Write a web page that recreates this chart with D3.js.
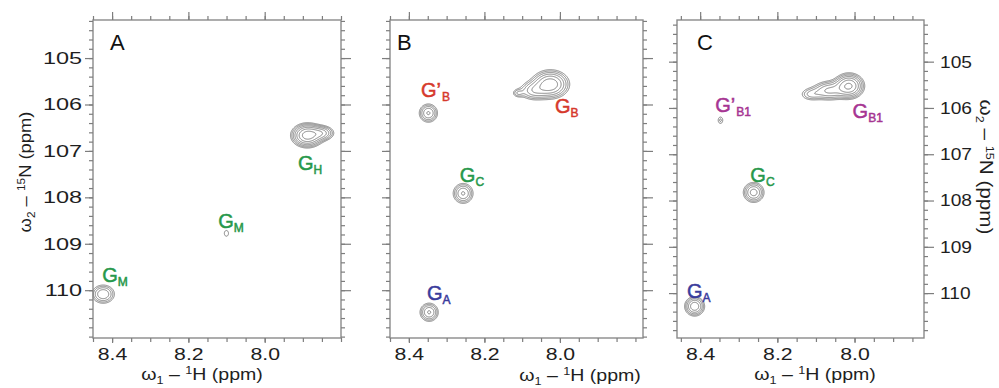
<!DOCTYPE html>
<html>
<head>
<meta charset="utf-8">
<script src="https://cdn.jsdelivr.net/npm/d3@7"></script>
<style>
  body { margin: 0; background: #fff; }
  svg { font-family: "Liberation Sans", Arial, Helvetica, sans-serif; }
</style>
</head>
<body>
<svg id="chart" width="999" height="388"></svg>
<script>
// tick labels
const xTickLabels = [8.4, 8.2, 8.0];
const yTickLabels = [105, 106, 107, 108, 109, 110];
const panelNames = ["A", "B", "C"];

// peaks: 1H ppm, 15N ppm, linewidths sx/sy (ppm), height h in units of lowest contour
const peaksA = [
  { x: 7.889, y: 106.66, sx: 0.021, sy: 0.13, h: 9 },
  { x: 7.850, y: 106.61, sx: 0.018, sy: 0.09, h: 4 },
  { x: 8.101, y: 108.77, sx: 0.0066, sy: 0.075, h: 1.4 },
  { x: 8.424, y: 110.08, sx: 0.018, sy: 0.12, h: 3.8 }
];
const peaksB = [
  { x: 8.349, y: 106.18, sx: 0.0145, sy: 0.118, h: 4 },
  { x: 8.026, y: 105.56, sx: 0.026, sy: 0.16, h: 7 },
  { x: 8.072, y: 105.70, sx: 0.022, sy: 0.12, h: 3 },
  { x: 8.112, y: 105.75, sx: 0.010, sy: 0.06, h: 1.6 },
  { x: 8.257, y: 107.91, sx: 0.0158, sy: 0.129, h: 4 },
  { x: 8.347, y: 110.47, sx: 0.0145, sy: 0.118, h: 4 }
];
const peaksC = [
  { x: 8.348, y: 106.26, sx: 0.0065, sy: 0.076, h: 1.5 },
  { x: 8.015, y: 105.52, sx: 0.020, sy: 0.14, h: 8 },
  { x: 8.067, y: 105.62, sx: 0.024, sy: 0.12, h: 4 },
  { x: 8.114, y: 105.70, sx: 0.018, sy: 0.09, h: 2 },
  { x: 8.262, y: 107.82, sx: 0.0155, sy: 0.125, h: 4.5 },
  { x: 8.415, y: 110.28, sx: 0.0145, sy: 0.118, h: 5 }
];

// peak assignments (label anchor in ppm)
const labelsA = [
  { sub: "H", prime: false, x: 7.913, y: 107.41 },
  { sub: "M", prime: false, x: 8.122, y: 108.66 },
  { sub: "M", prime: false, x: 8.426, y: 109.82 }
];
const labelsB = [
  { sub: "B", prime: true, x: 8.368, y: 105.84 },
  { sub: "B", prime: false, x: 8.013, y: 106.18 },
  { sub: "C", prime: false, x: 8.265, y: 107.67 },
  { sub: "A", prime: false, x: 8.352, y: 110.21 }
];
const labelsC = [
  { sub: "B1", prime: true, x: 8.361, y: 106.09 },
  { sub: "B1", prime: false, x: 8.005, y: 106.22 },
  { sub: "C", prime: false, x: 8.270, y: 107.60 },
  { sub: "A", prime: false, x: 8.434, y: 110.11 }
];

const labelColor = { H: "#27984b", M: "#27984b", C: "#27984b", A: "#3a3c9c", B: "#d6392c", B1: "#a63592" };

const panels = [
  { name: panelNames[0], peaks: peaksA, labels: labelsA, box: [93, 20, 341, 338], xDom: [8.45, 7.80], yDom: [104.18, 111.03],
    letterDx: 17, leftLabels: true, rightLabels: false, titleX: 202, titleY: 380 },
  { name: panelNames[1], peaks: peaksB, labels: labelsB, box: [390, 20, 643, 338], xDom: [8.45, 7.78], yDom: [104.18, 111.03],
    letterDx: 7, leftLabels: false, rightLabels: false, titleX: 580, titleY: 381 },
  { name: panelNames[2], peaks: peaksC, labels: labelsC, box: [677, 20, 924, 338], xDom: [8.46, 7.82], yDom: [104.1, 110.97],
    letterDx: 20, leftLabels: false, rightLabels: true, titleX: 815, titleY: 380 }
];

const svg = d3.select("#chart");
const tickColor = "#7d7d7d";
const levels = d3.range(0, 10).map(i => Math.pow(1.4, i));

function styleAxis(sel, stretch) {
  sel.select(".domain").remove();
  sel.selectAll(".tick line").attr("stroke", tickColor).attr("stroke-width", 1.2);
  sel.selectAll(".tick text").attr("fill", "#1e1e1e").style("font-size", "17px").style("font-family", "inherit")
    .each(function () {
      if (!stretch) return;
      const t = d3.select(this);
      const tx = +t.attr("x") || 0;
      t.attr("x", tx / stretch).attr("transform", `scale(${stretch},1)`);
    });
}

panels.forEach(p => {
  const [x0, y0, x1, y1] = p.box;
  const w = x1 - x0, h = y1 - y0;
  const x = d3.scaleLinear().domain(p.xDom).range([0, w]);
  const y = d3.scaleLinear().domain(p.yDom).range([0, h]);
  const g = svg.append("g").attr("transform", `translate(${x0},${y0})`);

  // contours from the peak list
  const k = 2;
  const nx = Math.round(w * k), ny = Math.round(h * k);
  const vals = new Float64Array(nx * ny);
  for (let j = 0; j < ny; j++) {
    const yp = y.invert(j / k);
    for (let i = 0; i < nx; i++) {
      const xp = x.invert(i / k);
      let v = 0;
      for (const pk of p.peaks) {
        const dx = (xp - pk.x) / pk.sx, dy = (yp - pk.y) / pk.sy;
        v += pk.h * Math.exp(-0.5 * (dx * dx + dy * dy));
      }
      vals[j * nx + i] = v;
    }
  }
  const cs = d3.contours().size([nx, ny]).thresholds(levels)(vals);
  g.append("g").attr("transform", `scale(${1 / k})`)
    .selectAll("path").data(cs).join("path")
    .attr("d", d3.geoPath())
    .attr("fill", "none")
    .attr("stroke", "#7e7e7e")
    .attr("stroke-width", 1.0 * k);

  // frame
  g.append("rect").attr("width", w).attr("height", h)
    .attr("fill", "none").attr("stroke", "#8a8a8a").attr("stroke-width", 1.4);

  const xMinor = d3.range(8.45, 7.75, -0.05).map(v => +v.toFixed(2)).filter(v => v <= p.xDom[0] && v >= p.xDom[1]);
  const yMinor = d3.range(104.2, 111.1, 0.2).map(v => +v.toFixed(1)).filter(v => v >= p.yDom[0] && v <= p.yDom[1]);

  // top
  g.append("g").call(d3.axisTop(x).tickValues(xMinor).tickSize(4).tickFormat("")).call(styleAxis);
  g.append("g").call(d3.axisTop(x).tickValues(xTickLabels).tickSize(8).tickFormat("")).call(styleAxis);
  // bottom
  g.append("g").attr("transform", `translate(0,${h})`)
    .call(d3.axisBottom(x).tickValues(xMinor).tickSize(4).tickFormat("")).call(styleAxis);
  g.append("g").attr("transform", `translate(0,${h})`)
    .call(d3.axisBottom(x).tickValues(xTickLabels).tickSize(5).tickPadding(5).tickFormat(d3.format(".1f")))
    .call(styleAxis, 1.25);
  // left
  g.append("g").call(d3.axisLeft(y).tickValues(yMinor).tickSize(4).tickFormat("")).call(styleAxis);
  g.append("g").call(d3.axisLeft(y).tickValues(yTickLabels).tickSize(8).tickPadding(3)
    .tickFormat(p.leftLabels ? d3.format("d") : "")).call(styleAxis, 1.38);
  // right
  g.append("g").attr("transform", `translate(${w},0)`)
    .call(d3.axisRight(y).tickValues(yMinor).tickSize(4).tickFormat("")).call(styleAxis);
  g.append("g").attr("transform", `translate(${w},0)`)
    .call(d3.axisRight(y).tickValues(yTickLabels).tickSize(10).tickPadding(6)
      .tickFormat(p.rightLabels ? d3.format("d") : "")).call(styleAxis, 1.13);

  // panel letter
  g.append("text").attr("x", p.letterDx).attr("y", 30).attr("fill", "#111")
    .style("font-size", "22px").text(p.name);

  // peak labels
  p.labels.forEach(l => {
    const t = g.append("text").attr("x", x(l.x)).attr("y", y(l.y))
      .attr("fill", labelColor[l.sub]).attr("stroke", labelColor[l.sub]).attr("stroke-width", 0.5)
      .style("font-size", "20px");
    t.append("tspan").text("G");
    if (l.prime) t.append("tspan").text("\u2019");
    t.append("tspan").attr("dy", 4).attr("dx", l.prime ? 1 : 0).style("font-size", "12px").text(l.sub);
  });

  // x title
  const xt = svg.append("text").attr("transform", `translate(${p.titleX},${p.titleY}) scale(1.15,1)`)
    .attr("text-anchor", "middle").attr("fill", "#1e1e1e").style("font-size", "17px");
  xt.append("tspan").text("\u03c9");
  xt.append("tspan").attr("dy", 4).style("font-size", "11px").text("1");
  xt.append("tspan").attr("dy", -4).text(" \u2013 ");
  xt.append("tspan").attr("dy", -6).style("font-size", "11px").text("1");
  xt.append("tspan").attr("dy", 6).text("H (ppm)");
});

// y titles
function yTitle(tx, ty, rot, size, stretch) {
  const t = svg.append("text").attr("transform", `translate(${tx},${ty}) rotate(${rot}) scale(${stretch},1)`)
    .attr("text-anchor", "middle").attr("fill", "#1e1e1e").style("font-size", size + "px");
  t.append("tspan").text("\u03c9");
  t.append("tspan").attr("dy", 4).style("font-size", "11px").text("2");
  t.append("tspan").attr("dy", -4).text(" \u2013 ");
  t.append("tspan").attr("dy", -6).style("font-size", "11px").text("15");
  t.append("tspan").attr("dy", 6).text("N (ppm)");
}
yTitle(31, 172, -90, 17, 1.08);
yTitle(980, 167, 90, 18, 1.15);
</script>
</body>
</html>
